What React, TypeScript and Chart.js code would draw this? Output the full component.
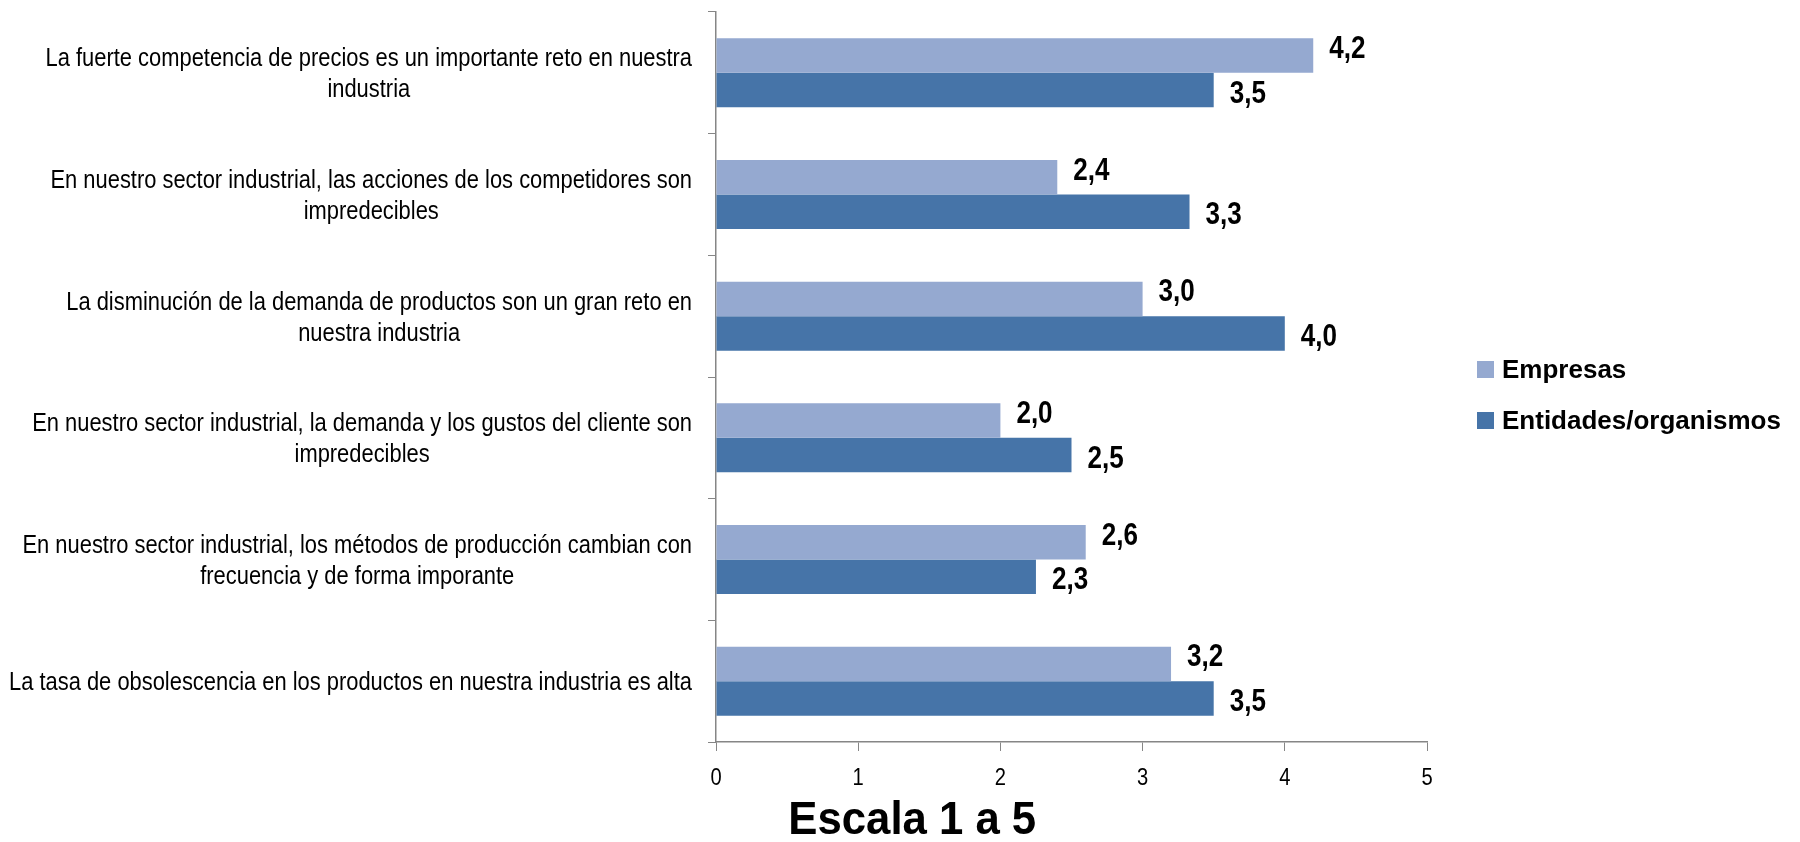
import React, { useEffect, useRef } from "react";
import { Chart, registerables } from "chart.js";

Chart.register(...registerables);

const CATEGORY_LINES: string[][] = [
  ["La fuerte competencia de precios es un importante reto en nuestra", "industria"],
  ["En nuestro sector industrial, las acciones de los competidores son", "impredecibles"],
  ["La disminución de la demanda de productos son un gran reto en", "nuestra industria"],
  ["En nuestro sector industrial, la demanda y los gustos del cliente son", "impredecibles"],
  ["En nuestro sector industrial, los métodos de producción cambian con", "frecuencia y de forma imporante"],
  ["La tasa de obsolescencia en los productos en nuestra industria es alta"],
];
const CATEGORIES = CATEGORY_LINES.map((l) => l.join(" "));
const EMPRESAS = [4.2, 2.4, 3.0, 2.0, 2.6, 3.2];
const ENTIDADES = [3.5, 3.33, 4.0, 2.5, 2.25, 3.5];
const SERIES_NAMES = ["Empresas", "Entidades/organismos"];
const X_TITLE = "Escala 1 a 5";

const FAMILY = '"Liberation Sans", Arial, sans-serif';
const LIGHT = "#95A9D0";
const DARK = "#4674A8";
const AXIS = "#868686";

const fmt = (v: number) => v.toFixed(1).replace(".", ",");

function narrowText(
  ctx: CanvasRenderingContext2D,
  text: string,
  x: number,
  y: number,
  align: CanvasTextAlign,
  k: number
) {
  ctx.save();
  ctx.translate(x, y);
  ctx.scale(k, 1);
  ctx.textAlign = align;
  ctx.fillText(text, 0, 0);
  ctx.restore();
}

const labelsPlugin = {
  id: "customText",
  afterDraw(chart: any) {
    const ctx = chart.ctx as CanvasRenderingContext2D;
    const area = chart.chartArea;
    const yScale = chart.scales.y;
    const xScale = chart.scales.x;
    ctx.save();
    ctx.fillStyle = "#000";
    ctx.textBaseline = "middle";

    // category labels: block right-aligned, lines centered inside block
    const kLab = 0.876;
    ctx.font = `25px ${FAMILY}`;
    const rightEdge = area.left - 24;
    const lh = 31;
    CATEGORY_LINES.forEach((lines, i) => {
      const cy = yScale.getPixelForValue(i) + 2;
      const w = Math.max(...lines.map((l) => ctx.measureText(l).width * kLab));
      const cx = rightEdge - w / 2;
      const y0 = cy - ((lines.length - 1) * lh) / 2;
      lines.forEach((l, j) => narrowText(ctx, l, cx, y0 + j * lh, "center", kLab));
    });

    // x tick labels
    ctx.font = `23px ${FAMILY}`;
    xScale.ticks.forEach((t: any) => {
      narrowText(ctx, String(t.value), xScale.getPixelForValue(t.value), area.bottom + 37, "center", 0.876);
    });

    // data labels
    ctx.font = `bold 31px ${FAMILY}`;
    const offsets = [-6, 4];
    chart.data.datasets.forEach((ds: any, di: number) => {
      const meta = chart.getDatasetMeta(di);
      meta.data.forEach((el: any, i: number) => {
        narrowText(ctx, fmt(ds.data[i]), el.x + 16, el.y + offsets[di], "left", 0.84);
      });
    });

    // legend
    ctx.textBaseline = "alphabetic";
    ctx.font = `bold 26px ${FAMILY}`;
    const lx = area.right + 50;
    const ly = [378, 429];
    chart.data.datasets.forEach((ds: any, di: number) => {
      ctx.fillStyle = ds.backgroundColor;
      ctx.fillRect(lx, ly[di] - 17, 17, 17);
      ctx.fillStyle = "#000";
      narrowText(ctx, ds.label, lx + 25, ly[di], "left", 1);
    });

    // axis title
    ctx.font = `bold 46px ${FAMILY}`;
    narrowText(ctx, X_TITLE, area.left + 0.276 * (area.right - area.left), 834, "center", 0.95);
    ctx.restore();
  },
};

export default function App() {
  const ref = useRef<HTMLCanvasElement>(null);
  useEffect(() => {
    document.body.style.margin = "0";
    const chart = new Chart(ref.current!, {
      type: "bar",
      data: {
        labels: CATEGORIES,
        datasets: [
          { label: SERIES_NAMES[0], data: EMPRESAS, backgroundColor: LIGHT, categoryPercentage: 0.567, barPercentage: 1 },
          { label: SERIES_NAMES[1], data: ENTIDADES, backgroundColor: DARK, categoryPercentage: 0.567, barPercentage: 1 },
        ],
      },
      options: {
        indexAxis: "y",
        responsive: false,
        animation: false,
        layout: { padding: { top: 12, right: 373, left: 0, bottom: 0 } },
        plugins: { legend: { display: false }, tooltip: { enabled: false } },
        scales: {
          y: {
            afterFit(scale: any) {
              scale.width = 716;
            },
            ticks: { display: false },
            grid: { display: true, drawOnChartArea: false, drawTicks: true, tickLength: 8, color: AXIS, offset: true },
            border: { color: AXIS, width: 1.5 },
          },
          x: {
            min: 0,
            max: 5,
            afterFit(scale: any) {
              scale.height = 100;
            },
            ticks: { stepSize: 1, display: false },
            grid: { display: true, drawOnChartArea: false, drawTicks: true, tickLength: 9, color: AXIS },
            border: { color: AXIS, width: 1.5 },
          },
        },
      },
      plugins: [labelsPlugin],
    });
    return () => chart.destroy();
  }, []);
  return (
    <div style={{ width: 1800, height: 842, background: "#fff" }}>
      <canvas ref={ref} width={1800} height={842} />
    </div>
  );
}
